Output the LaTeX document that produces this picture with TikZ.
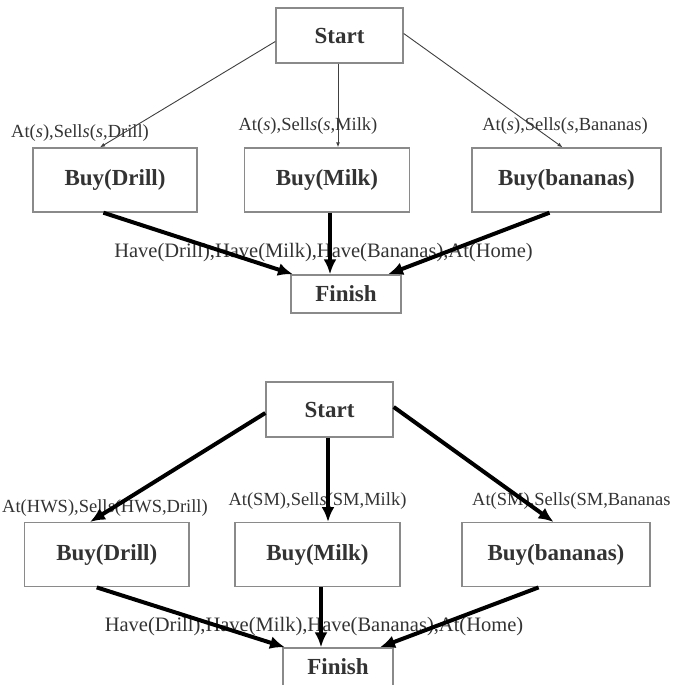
\documentclass[tikz,border=0pt]{standalone}
\usepackage{fontspec}
\setmainfont{Liberation Serif}
\usetikzlibrary{arrows.meta,calc}
\definecolor{txt}{HTML}{333333}
\definecolor{boxline}{HTML}{8A8A8A}
\tikzset{
  box/.style={draw=boxline, line width=1.4pt, fill=white, inner sep=0pt, text=txt,
              font=\fontsize{23}{27}\selectfont\bfseries},
  cond/.style={inner sep=0pt, text=txt, font=\fontsize{18.5}{22}\selectfont},
  have/.style={inner sep=0pt, text=txt, font=\fontsize{20.5}{24}\selectfont},
  thin/.style={draw=black!75, line width=0.9pt, -{Latex[length=5pt,width=4pt]}},
  thick/.style={draw=black, line width=4pt, -{Latex[length=15pt,width=13pt]}}
}
\begin{document}
\begin{tikzpicture}[x=1pt,y=-1pt]
\clip (0,0) rectangle (673,685);
\fill[white] (0,0) rectangle (673,685);
% ---------- top diagram ----------
\node[box, minimum width=127pt, minimum height=55pt] (st1) at (339.5,35.5) {Start};
\node[box, minimum width=164pt, minimum height=64pt] (bd1) at (115,180) {Buy(Drill)};
\node[box, minimum width=165pt, minimum height=64pt] (bm1) at (327,180) {Buy(Milk)};
\node[box, minimum width=189pt, minimum height=64pt] (bb1) at (566.5,180) {Buy(bananas)};
\node[box, minimum width=110pt, minimum height=38pt] (fi1) at (346,294) {Finish};
\node[cond] (c1d) at (80,133) {At(\textit{s}),Sell\textit{s}(\textit{s},Drill)};
\node[cond] (c1m) at (308,126) {At(\textit{s}),Sell\textit{s}(\textit{s},Milk)};
\node[cond] (c1b) at (565,126) {At(\textit{s}),Sell\textit{s}(\textit{s},Bananas)};
\node[have] (h1) at (323.5,253) {Have(Drill),Have(Milk),Have(Bananas),At(Home)};
\draw[thin] ($(st1.west)+(0,6)$) -- ($(bd1.north)+(-15,0)$);
\draw[thin] ($(st1.south)+(-1.5,0)$) -- ($(bm1.north)+(11,0)$);
\draw[thin] ($(st1.east)+(0,-2)$) -- ($(bb1.north)+(-4,0)$);
\draw[thick] ($(bd1.south)+(-11.6,0)$) -- ($(fi1.north)+(-53,0)$);
\draw[thick] ($(bm1.south)+(3,0)$) -- ($(fi1.north)+(-16,0)$);
\draw[thick] ($(bb1.south)+(-17,0)$) -- ($(fi1.north)+(42,0)$);
% ---------- bottom diagram ----------
\node[box, minimum width=127pt, minimum height=55pt] (st2) at (329.5,409.5) {Start};
\node[box, minimum width=164.5pt, minimum height=64pt] (bd2) at (106.75,554.7) {Buy(Drill)};
\node[box, minimum width=165pt, minimum height=64pt] (bm2) at (317.5,554.7) {Buy(Milk)};
\node[box, minimum width=188pt, minimum height=64pt] (bb2) at (556,554.7) {Buy(bananas)};
\node[box, minimum width=110pt, minimum height=38pt] (fi2) at (338,667) {Finish};
\node[cond] (c2d) at (105,508) {At(HWS),Sell\textit{s}(HWS,Drill)};
\node[cond] (c2m) at (317.5,501) {At(SM),Sell\textit{s}(SM,Milk)};
\node[cond, anchor=west] (c2b) at (472,501) {At(SM),Sell\textit{s}(SM,Bananas};
\node[have] (h2) at (314,627) {Have(Drill),Have(Milk),Have(Bananas),At(Home)};
\draw[thick] ($(st2.west)+(0,3.5)$) -- ($(bd2.north)+(-16.75,0)$);
\draw[thick] ($(st2.south)+(-1.5,0)$) -- ($(bm2.north)+(10.5,0)$);
\draw[thick] ($(st2.east)+(0,-2.5)$) -- ($(bb2.north)+(-2.4,0)$);
\draw[thick] ($(bd2.south)+(-10,0)$) -- ($(fi2.north)+(-53,0)$);
\draw[thick] ($(bm2.south)+(3.5,0)$) -- ($(fi2.north)+(-17,0)$);
\draw[thick] ($(bb2.south)+(-17.4,0)$) -- ($(fi2.north)+(42,0)$);
\end{tikzpicture}
\end{document}
